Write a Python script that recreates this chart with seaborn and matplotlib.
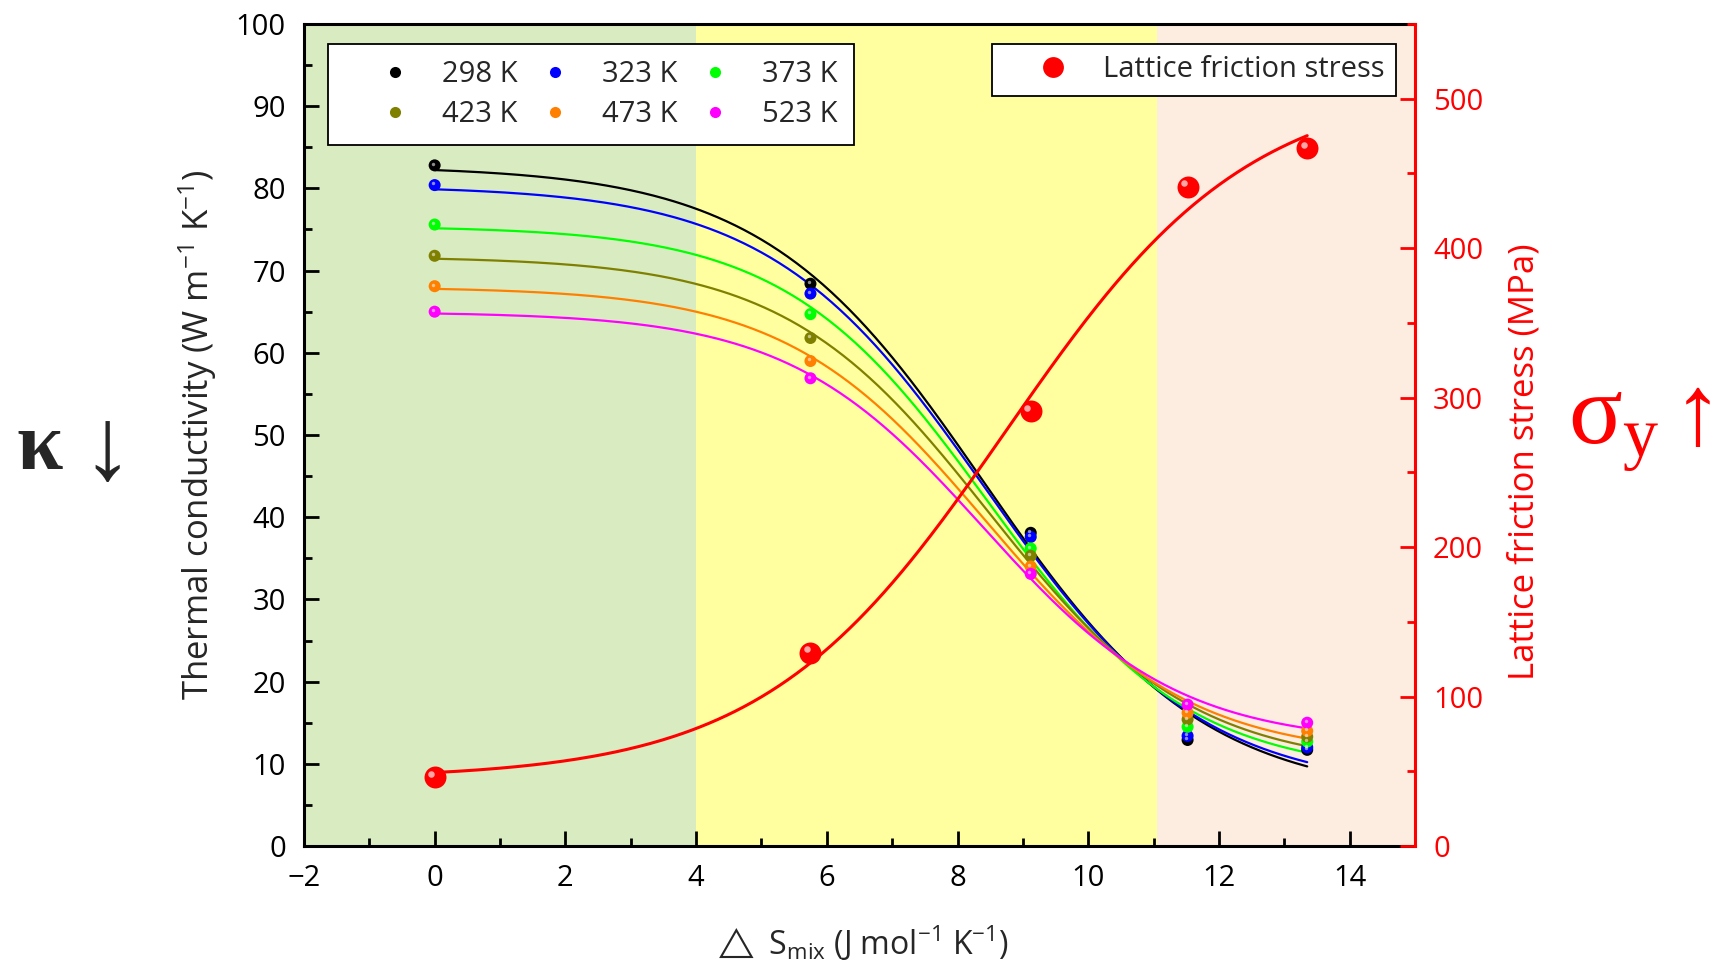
import numpy as np
import pandas as pd
import seaborn as sns
import matplotlib.pyplot as plt
from matplotlib.lines import Line2D
from matplotlib.transforms import offset_copy

# mixing entropy (x) and thermal conductivity per temperature
s_mix = [0, 5.75, 9.12, 11.52, 13.35]
temps = ['298 K', '323 K', '373 K', '423 K', '473 K', '523 K']
k_298 = [82.8, 68.4, 38.1, 12.9, 11.7]
k_323 = [80.4, 67.2, 37.6, 13.4, 12.0]
k_373 = [75.6, 64.7, 36.2, 14.5, 12.7]
k_423 = [71.8, 61.8, 35.3, 15.4, 13.3]
k_473 = [68.1, 59.0, 34.0, 16.2, 14.0]
k_523 = [65.0, 56.9, 33.1, 17.2, 15.0]
stress = [45.9, 129.4, 291.0, 441.0, 466.7]

colors = ['#000000', '#0000ff', '#00ff00', '#808000', '#ff8000', '#ff00ff']
zone_edges = [-2, 4, 11.05, 15]
zone_colors = ['#d9ecc1', '#ffff9f', '#fdece0']


def boltzmann_fit(x, y, xs):
    # Boltzmann sigmoid fit: grid over x0/dx, least squares for A1/A2
    x = np.asarray(x, float)
    y = np.asarray(y, float)
    x0 = np.linspace(3, 13, 401)[:, None, None]
    dx = np.linspace(0.6, 4, 171)[None, :, None]
    f = 1 / (1 + np.exp((x[None, None, :] - x0) / dx))
    fm = f.mean(-1, keepdims=True)
    ym = y.mean()
    b = ((f - fm) * (y - ym)).sum(-1) / ((f - fm) ** 2).sum(-1)
    a = ym - b * fm[..., 0]
    sse = ((a[..., None] + b[..., None] * f - y) ** 2).sum(-1)
    i, j = np.unravel_index(np.argmin(sse), sse.shape)
    return a[i, j] + b[i, j] / (1 + np.exp((xs - x0[i, 0, 0]) / dx[0, j, 0]))


series = [k_298, k_323, k_373, k_423, k_473, k_523]
df = pd.DataFrame({
    'S': np.tile(s_mix, len(temps)),
    'k': np.concatenate(series),
    'T': np.repeat(temps, len(s_mix)),
})
xs = np.linspace(s_mix[0], s_mix[-1], 300)
fit_df = pd.DataFrame({
    'S': np.tile(xs, len(temps)),
    'k': np.concatenate([boltzmann_fit(s_mix, v, xs) for v in series]),
    'T': np.repeat(temps, len(xs)),
})
stress_fit = pd.DataFrame({'S': xs, 'sigma': boltzmann_fit(s_mix, stress, xs)})

sns.set_style('ticks')
plt.rcParams['font.family'] = ['Open Sans', 'DejaVu Sans']
plt.rcParams['mathtext.fontset'] = 'custom'
plt.rcParams['mathtext.rm'] = 'Open Sans'
plt.rcParams['mathtext.fallback'] = 'stixsans'

fig = plt.figure(figsize=(17.2, 9.66), dpi=100)
ax = fig.add_axes([0.1767, 0.1242, 0.646, 0.851])
pal = dict(zip(temps, colors))

for i in range(3):
    ax.axvspan(zone_edges[i], zone_edges[i + 1], color=zone_colors[i], lw=0, zorder=0)

sns.lineplot(data=fit_df, x='S', y='k', hue='T', palette=pal, lw=1.6, legend=False, ax=ax, zorder=2)
sns.scatterplot(data=df, x='S', y='k', hue='T', palette=pal, s=75, edgecolor='none', legend=False, ax=ax, zorder=3)
hl = offset_copy(ax.transData, fig=fig, x=-1.2, y=1.2, units='points')
ax.scatter(df['S'], df['k'], s=6, color='white', alpha=0.55, lw=0, transform=hl, zorder=4)

ax.set_xlim(-2, 15)
ax.set_ylim(0, 100)
ax.set_xticks(np.arange(-2, 15, 2))
ax.set_xticks(np.arange(-2, 15, 1), minor=True)
ax.set_yticks(np.arange(0, 101, 10))
ax.set_yticks(np.arange(0, 101, 5), minor=True)
ax.tick_params(which='both', direction='in', width=2, labelsize=21, colors='black')
ax.tick_params(which='major', length=11, pad=13)
ax.tick_params(which='minor', length=6)
for sp in ['left', 'bottom', 'top']:
    ax.spines[sp].set_linewidth(2.2)
    ax.spines[sp].set_color('black')
ax.spines['right'].set_visible(False)
ax.set_xlabel('$\\triangle$ S$\\mathregular{_{mix}}$ (J mol$\\mathregular{^{-1}}$ K$\\mathregular{^{-1}}$)', fontsize=23, labelpad=22)
ax.set_ylabel('Thermal conductivity (W m$\\mathregular{^{-1}}$ K$\\mathregular{^{-1}}$)', fontsize=25, labelpad=12)

# row-major order as in the reference legend
order = [0, 3, 1, 4, 2, 5]
handles = [Line2D([], [], ls='none', marker='o', ms=8, color=colors[i], mec='none') for i in order]
leg = ax.legend(handles, [temps[i] for i in order], ncol=3, loc='upper left', bbox_to_anchor=(0.0217, 0.976),
                borderaxespad=0, fontsize=21, frameon=True, fancybox=False, edgecolor='black',
                handlelength=3.5, handletextpad=-0.15, columnspacing=-0.45, borderpad=0.55, labelspacing=0.4)
leg.get_frame().set_linewidth(1.3)
leg.get_frame().set_alpha(1)

ax2 = ax.twinx()
sns.lineplot(data=stress_fit, x='S', y='sigma', color='#ff0000', lw=2.2, ax=ax2, zorder=2)
ax2.scatter(s_mix, stress, s=250, color='#ff0000', lw=0, zorder=3)
hl2 = offset_copy(ax2.transData, fig=fig, x=-2.5, y=2.5, units='points')
ax2.scatter(s_mix, stress, s=22, color='white', alpha=0.65, lw=0, transform=hl2, zorder=4)
ax2.set_ylim(0, 550)
ax2.set_yticks(np.arange(0, 501, 100))
ax2.set_yticks(np.arange(0, 551, 50), minor=True)
ax2.tick_params(which='both', direction='in', width=2, labelsize=21, colors='#ff0000')
ax2.tick_params(which='major', length=11, pad=13)
ax2.tick_params(which='minor', length=6)
ax2.spines['right'].set_color('#ff0000')
ax2.spines['right'].set_linewidth(2.2)
for sp in ['left', 'top', 'bottom']:
    ax2.spines[sp].set_visible(False)
ax2.set_ylabel('Lattice friction stress (MPa)', fontsize=25, color='#ff0000')
ax2.yaxis.set_label_coords(1.083, 0.467)
ax2.set_xlabel('')

h2 = [Line2D([], [], ls='none', marker='o', ms=15, color='#ff0000', mec='none')]
leg2 = ax2.legend(h2, ['Lattice friction stress'], loc='upper right', bbox_to_anchor=(0.983, 0.976),
                  borderaxespad=0, fontsize=21, frameon=True, fancybox=False, edgecolor='black',
                  handlelength=3.4, handletextpad=0.0, borderpad=0.4)
leg2.get_frame().set_linewidth(1.3)
leg2.get_frame().set_alpha(1)

fig.text(0.023, 0.535, 'κ', fontsize=60, fontweight='bold', family=['Liberation Serif', 'DejaVu Serif'], ha='center', va='center')
fig.text(0.062, 0.53, '↓', fontsize=74, family=['Liberation Serif', 'DejaVu Sans'], ha='center', va='center')
fig.text(0.938, 0.555, 'σ$\\mathregular{_y}$', fontsize=72, color='#ff0000', family=['Liberation Serif', 'DejaVu Serif'], ha='center', va='center')
fig.text(0.987, 0.565, '↑', fontsize=72, color='#ff0000', family=['Liberation Serif', 'DejaVu Sans'], ha='center', va='center')

fig.savefig('out.png', dpi=100)
